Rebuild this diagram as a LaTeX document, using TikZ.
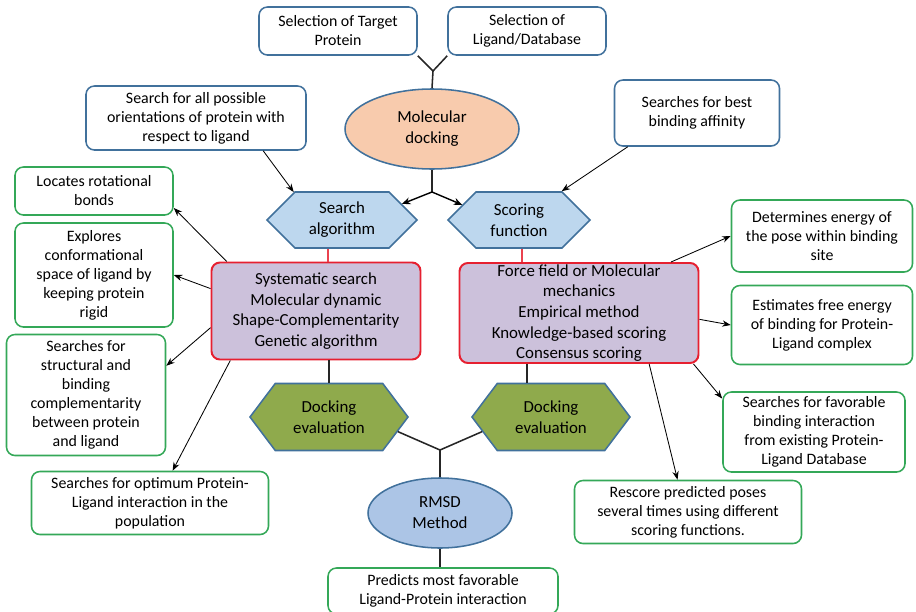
\documentclass[tikz,border=0pt]{standalone}
\usepackage{fontspec}
\setmainfont{Carlito}
\usetikzlibrary{shapes.geometric,shapes.symbols,arrows.meta}

\definecolor{bline}{RGB}{65,113,156}
\definecolor{gline}{RGB}{52,168,88}
\definecolor{rline}{RGB}{230,32,48}
\definecolor{lav}{RGB}{204,193,219}
\definecolor{peach}{RGB}{248,203,173}
\definecolor{lblue}{RGB}{189,215,238}
\definecolor{mblue}{RGB}{172,197,230}
\definecolor{olive}{RGB}{143,170,76}

\begin{document}
\begin{tikzpicture}[x=0.025cm,y=-0.025cm]
  % 1 unit = 1 px of the 916x612 layout, y runs downwards
  \def\PX{0.025cm}
  \tikzset{
    box/.style={draw,rounded corners=6pt,line width=1.1pt,fill=white,align=center,
      inner sep=2pt,font=\fontsize{11.3}{13.5}\selectfont},
    bbox/.style={box,draw=bline},
    gbox/.style={box,draw=gline},
    redbox/.style={box,draw=rline,fill=lav,line width=1.4pt,font=\fontsize{12}{14.7}\selectfont},
    hexa/.style={shape=signal,signal to=east and west,draw=bline,line width=1.1pt,align=center,
      inner sep=1pt,font=\fontsize{12}{15}\selectfont},
    bhex/.style={hexa,fill=lblue,signal pointer angle=90},
    ghex/.style={hexa,fill=olive,signal pointer angle=106},
    oval/.style={ellipse,draw=bline,line width=1.1pt,align=center,inner sep=0pt,
      font=\fontsize{12}{15}\selectfont},
    link/.style={line width=1.1pt,black!85},
    arr/.style={-{Stealth[length=6pt,width=4.5pt]},line width=0.6pt},
    arrb/.style={-{Stealth[length=6pt,width=5pt]},line width=1pt},
    redlink/.style={line width=1.2pt,rline!85}
  }
  \useasboundingbox (0,0) rectangle (916,612);

  % top: the two inputs and the main ellipse
  \node[bbox,minimum width=158*\PX,minimum height=48*\PX] (tgt) at (338,31) {Selection of Target\\Protein};
  \node[bbox,minimum width=158*\PX,minimum height=48*\PX] (lig) at (527,31) {Selection of\\Ligand/Database};
  \node[oval,fill=peach,minimum width=174*\PX,minimum height=80*\PX] (dock) at (432,129) {Molecular\\docking};
  \coordinate (jtop) at (433,71);
  \draw[link] (tgt.south east) -- (jtop) -- (lig.south west);
  \draw[link] (jtop) -- (dock.north);

  % search / scoring hexagons
  \node[bbox,minimum width=220*\PX,minimum height=64*\PX] (srch) at (196,118)
    {Search for all possible\\orientations of protein with\\respect to ligand};
  \node[bbox,minimum width=165*\PX,minimum height=66*\PX] (best) at (697,113)
    {Searches for best\\binding affinity};
  \node[bhex,minimum width=150*\PX,minimum height=56*\PX] (sa) at (342,220) {Search\\algorithm};
  \node[bhex,minimum width=142*\PX,minimum height=56*\PX] (sf) at (519,220) {Scoring\\function};
  \coordinate (jmid) at (432,192);
  \draw[link] (dock.south) -- (jmid);
  \draw[arrb] (jmid) -- (sa.15);
  \draw[arrb] (jmid) -- (sf.165);
  \draw[arr] (srch.-26) -- (sa.150);
  \draw[arr] (best.206) -- (sf.34);

  % method boxes
  \node[redbox,minimum width=209*\PX,minimum height=97*\PX] (sys) at (316,311)
    {Systematic search\\Molecular dynamic\\Shape-Complementarity\\Genetic algorithm};
  \node[redbox,minimum width=239*\PX,minimum height=100*\PX,inner sep=0pt] (sc) at (579,313)
    {Force field or Molecular\\mechanics\\Empirical method\\Knowledge-based scoring\\Consensus scoring};
  \draw[redlink] ([xshift=-14*\PX]sa.south) -- ([xshift=-14*\PX]sa.south |- sys.north);
  \draw[redlink] ([xshift=3*\PX]sf.south) -- ([xshift=3*\PX]sf.south |- sc.north);

  % left notes
  \node[gbox,minimum width=158*\PX,minimum height=48*\PX] (rot) at (94,191) {Locates rotational\\bonds};
  \node[gbox,minimum width=158*\PX,minimum height=104*\PX] (expl) at (94,275)
    {Explores\\conformational\\space of ligand by\\keeping protein\\rigid};
  \node[gbox,minimum width=159*\PX,minimum height=121*\PX] (strc) at (86,395)
    {Searches for\\structural and\\binding\\complementarity\\between protein\\and ligand};
  \node[gbox,minimum width=237*\PX,minimum height=63*\PX] (opt) at (150,503)
    {Searches for optimum Protein-\\Ligand interaction in the\\population};
  \draw[arr] (sys.151) -- (rot.-12);
  \draw[arr] (sys.168) -- (expl.east);
  \draw[arr] (sys.189) -- (strc.20);
  \draw[arr] (sys.210) -- (opt.55);

  % right notes
  \node[gbox,minimum width=181*\PX,minimum height=72*\PX] (det) at (822,236)
    {Determines energy of\\the pose within binding\\site};
  \node[gbox,minimum width=181*\PX,minimum height=79*\PX] (est) at (822,325)
    {Estimates free energy\\of binding for Protein-\\Ligand complex};
  \node[gbox,minimum width=182*\PX,minimum height=80*\PX] (fav) at (814,432)
    {Searches for favorable\\binding interaction\\from existing Protein-\\Ligand Database};
  \node[gbox,minimum width=227*\PX,minimum height=63*\PX] (resc) at (688,512)
    {Rescore predicted poses\\several times using different\\scoring functions.};
  \draw[arr] (sc.29) -- (det.west);
  \draw[arr] (sc.-3) -- (est.west);
  \draw[arr] (sc.-24) -- (fav.160);
  \draw[arr] (sc.-36) -- (resc.108);

  % evaluation and RMSD
  \node[ghex,minimum width=158*\PX,minimum height=67*\PX] (dle) at (329,417) {Docking\\evaluation};
  \node[ghex,minimum width=158*\PX,minimum height=67*\PX] (dre) at (551,417) {Docking\\evaluation};
  \draw[link] (sys.south -| dle.north) -- (dle.north);
  \draw[link] ([xshift=-24*\PX]dre.north |- sc.south) -- ([xshift=-24*\PX]dre.north);
  \node[oval,fill=mblue,minimum width=144*\PX,minimum height=70*\PX] (rmsd) at (440,513) {RMSD\\Method};
  \coordinate (jbot) at (440,450);
  \draw[link] (dle.-12) -- (jbot) -- (dre.192);
  \draw[link] (jbot) -- (rmsd.north);
  \node[gbox,minimum width=230*\PX,minimum height=46*\PX] (pred) at (443,591)
    {Predicts most favorable\\Ligand-Protein interaction};
  \draw[link] (rmsd.south) -- (rmsd.south |- pred.north);
\end{tikzpicture}
\end{document}
